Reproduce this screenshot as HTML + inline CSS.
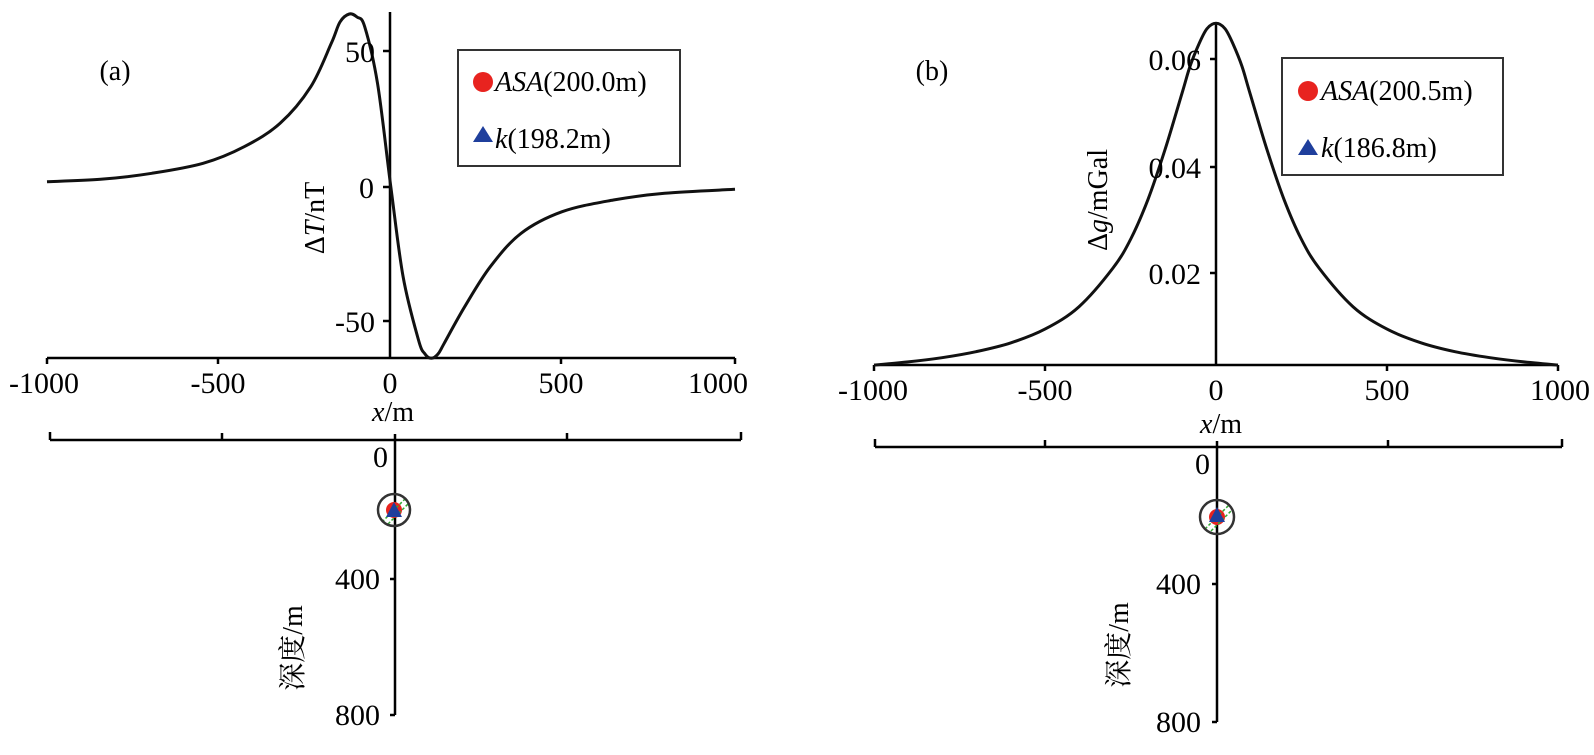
<!DOCTYPE html>
<html><head><meta charset="utf-8"><style>
html,body{margin:0;padding:0;background:#fff;}
svg text{font-family:"Liberation Serif","Times New Roman",serif;fill:#000;}
svg text.cjk{font-family:"Liberation Serif","Noto Serif CJK SC",serif;}
</style></head><body>
<svg width="1594" height="750" viewBox="0 0 1594 750" xmlns="http://www.w3.org/2000/svg">
<!-- ===== LEFT TOP ===== -->
<g stroke="#000" stroke-width="2.5" fill="none">
<line x1="47" y1="358" x2="735" y2="358"/>
<line x1="47" y1="358" x2="47" y2="364"/><line x1="218" y1="358" x2="218" y2="364"/>
<line x1="561" y1="358" x2="561" y2="364"/><line x1="735" y1="358" x2="735" y2="364"/>
<line x1="390" y1="12" x2="390" y2="358"/>
<line x1="383" y1="51" x2="390" y2="51"/><line x1="383" y1="187" x2="390" y2="187"/><line x1="383" y1="321" x2="390" y2="321"/>
</g>
<polyline id="c1" fill="none" stroke="#111" stroke-width="3" stroke-linejoin="round" points="47,181.7 100.6,179.3 151.8,173.3 203.1,163.3 244.2,146.7 280.1,123.3 310.8,86.7 331.3,43.3 340,22 349.3,14 357,17 364.7,26.7 377.5,83.3 390.8,186.7 403.1,276.7 418.5,340 425,354 431.3,358.3 438,354 444.2,343.3 464.7,306.7 490.3,266.7 521.1,233.3 562.1,211.7 613.4,200 664.7,193.3 735,189.3"/>
<g font-size="30" text-anchor="middle">
<text x="44" y="393">-1000</text><text x="218" y="393">-500</text><text x="390" y="393">0</text>
<text x="561" y="393">500</text><text x="718" y="393">1000</text>
</g>
<text x="393" y="421" font-size="28" text-anchor="middle"><tspan font-style="italic">x</tspan>/m</text>
<g font-size="30" text-anchor="end">
<text x="375" y="62">50</text><text x="374" y="198">0</text><text x="375" y="332">-50</text>
</g>
<text transform="translate(324,218) rotate(-90)" font-size="28" text-anchor="middle">Δ<tspan font-style="italic">T</tspan>/nT</text>
<text x="115" y="80" font-size="28" text-anchor="middle">(a)</text>
<rect x="458" y="50" width="222" height="116" fill="#fff" stroke="#333" stroke-width="2"/>
<circle cx="483" cy="82" r="10" fill="#e8231f"/>
<polygon points="473,142 493,142 483,126" fill="#1f3f9c"/>
<text x="495" y="91" font-size="28"><tspan font-style="italic">ASA</tspan>(200.0m)</text>
<text x="495" y="148" font-size="28"><tspan font-style="italic">k</tspan>(198.2m)</text>

<!-- ===== LEFT BOTTOM ===== -->
<g stroke="#000" stroke-width="2.5" fill="none">
<line x1="50" y1="440" x2="741" y2="440"/>
<line x1="50" y1="440" x2="50" y2="432"/><line x1="222" y1="440" x2="222" y2="433"/>
<line x1="567" y1="440" x2="567" y2="433"/><line x1="741" y1="440" x2="741" y2="432"/>
<line x1="395" y1="434" x2="395" y2="715"/>
<line x1="390" y1="579" x2="395" y2="579"/><line x1="390" y1="715" x2="395" y2="715"/>
</g>
<g font-size="30" text-anchor="end">
<text x="388" y="467">0</text><text x="380" y="589">400</text><text x="380" y="725">800</text>
</g>
<text class="cjk" transform="translate(302,648) rotate(-90)" font-size="28" text-anchor="middle">深度/m</text>
<g transform="translate(394,510)">
<circle r="8" fill="#e8231f"/>
<line x1="-12" y1="12" x2="12" y2="-12" stroke="#3a3" stroke-width="1.5" stroke-dasharray="3,2"/>
<line x1="-6" y1="14" x2="14" y2="-6" stroke="#3a3" stroke-width="1.5" stroke-dasharray="3,2"/>
<polygon points="-8,7 8,7 0,-8" fill="#1f3f9c"/>
<circle r="16" fill="none" stroke="#333" stroke-width="2.5"/>
</g>

<!-- ===== RIGHT TOP ===== -->
<g stroke="#000" stroke-width="2.5" fill="none">
<line x1="874" y1="365" x2="1558" y2="365"/>
<line x1="874" y1="365" x2="874" y2="371"/><line x1="1045" y1="365" x2="1045" y2="371"/>
<line x1="1387" y1="365" x2="1387" y2="371"/><line x1="1558" y1="365" x2="1558" y2="371"/>
<line x1="1216" y1="22" x2="1216" y2="365"/>
<line x1="1210" y1="59" x2="1216" y2="59"/><line x1="1210" y1="167" x2="1216" y2="167"/><line x1="1210" y1="273" x2="1216" y2="273"/>
</g>
<polyline id="c2" fill="none" stroke="#111" stroke-width="3" stroke-linejoin="round" points="874,365.1 908,361.9 942,357.7 976,351.7 1011,342.8 1045,329.1 1079,306.7 1113,268 1131,238.5 1148,199.4 1165,149.7 1182,93.3 1190,66.4 1199,43.9 1207,28.7 1216,23.3 1225,28.7 1233,43.9 1242,66.4 1250,93.3 1267,149.7 1284,199.4 1301,238.5 1319,268 1353,306.7 1387,329.1 1421,342.8 1455,351.7 1490,357.7 1524,361.9 1558,365.1"/>
<g font-size="30" text-anchor="middle">
<text x="873" y="400">-1000</text><text x="1045" y="400">-500</text><text x="1216" y="400">0</text>
<text x="1387" y="400">500</text><text x="1560" y="400">1000</text>
</g>
<text x="1221" y="433" font-size="28" text-anchor="middle"><tspan font-style="italic">x</tspan>/m</text>
<g font-size="30" text-anchor="end">
<text x="1201" y="70">0.06</text><text x="1201" y="178">0.04</text><text x="1201" y="284">0.02</text>
</g>
<text transform="translate(1107,200) rotate(-90)" font-size="28" text-anchor="middle">Δ<tspan font-style="italic">g</tspan>/mGal</text>
<text x="932" y="80" font-size="28" text-anchor="middle">(b)</text>
<rect x="1282" y="58" width="221" height="117" fill="#fff" stroke="#333" stroke-width="2"/>
<circle cx="1308" cy="91" r="10" fill="#e8231f"/>
<polygon points="1298,155 1318,155 1308,139" fill="#1f3f9c"/>
<text x="1321" y="100" font-size="28"><tspan font-style="italic">ASA</tspan>(200.5m)</text>
<text x="1321" y="157" font-size="28"><tspan font-style="italic">k</tspan>(186.8m)</text>

<!-- ===== RIGHT BOTTOM ===== -->
<g stroke="#000" stroke-width="2.5" fill="none">
<line x1="875" y1="447" x2="1562" y2="447"/>
<line x1="875" y1="447" x2="875" y2="439"/><line x1="1045" y1="447" x2="1045" y2="440"/>
<line x1="1388" y1="447" x2="1388" y2="440"/><line x1="1562" y1="447" x2="1562" y2="439"/>
<line x1="1217" y1="441" x2="1217" y2="722"/>
<line x1="1212" y1="584" x2="1217" y2="584"/><line x1="1212" y1="722" x2="1217" y2="722"/>
</g>
<g font-size="30" text-anchor="end">
<text x="1210" y="474">0</text><text x="1201" y="594">400</text><text x="1201" y="732">800</text>
</g>
<text class="cjk" transform="translate(1128,645) rotate(-90)" font-size="28" text-anchor="middle">深度/m</text>
<g transform="translate(1217,517)">
<circle r="8" fill="#e8231f"/>
<line x1="-12" y1="12" x2="12" y2="-12" stroke="#3a3" stroke-width="1.5" stroke-dasharray="3,2"/>
<line x1="-6" y1="14" x2="14" y2="-6" stroke="#3a3" stroke-width="1.5" stroke-dasharray="3,2"/>
<polygon points="-8,5 8,5 0,-10" fill="#1f3f9c"/>
<circle r="17" fill="none" stroke="#333" stroke-width="2.5"/>
</g>
</svg>
<script>
(function(){
function smooth(id){
  var pl=document.getElementById(id);
  var pts=pl.getAttribute('points').trim().split(/\s+/).map(function(s){return s.split(',').map(Number);});
  var d='M'+pts[0][0]+','+pts[0][1];
  for(var i=0;i<pts.length-1;i++){
    var p0=pts[i-1]||pts[i],p1=pts[i],p2=pts[i+1],p3=pts[i+2]||p2;
    var c1=[p1[0]+(p2[0]-p0[0])/6,p1[1]+(p2[1]-p0[1])/6];
    var c2=[p2[0]-(p3[0]-p1[0])/6,p2[1]-(p3[1]-p1[1])/6];
    d+=' C'+c1[0].toFixed(1)+','+c1[1].toFixed(1)+' '+c2[0].toFixed(1)+','+c2[1].toFixed(1)+' '+p2[0]+','+p2[1];
  }
  var p=document.createElementNS('http://www.w3.org/2000/svg','path');
  p.setAttribute('d',d);p.setAttribute('fill','none');p.setAttribute('stroke','#111');p.setAttribute('stroke-width','3');
  pl.parentNode.replaceChild(p,pl);
}
smooth('c1');smooth('c2');
})();
</script>
</body></html>
